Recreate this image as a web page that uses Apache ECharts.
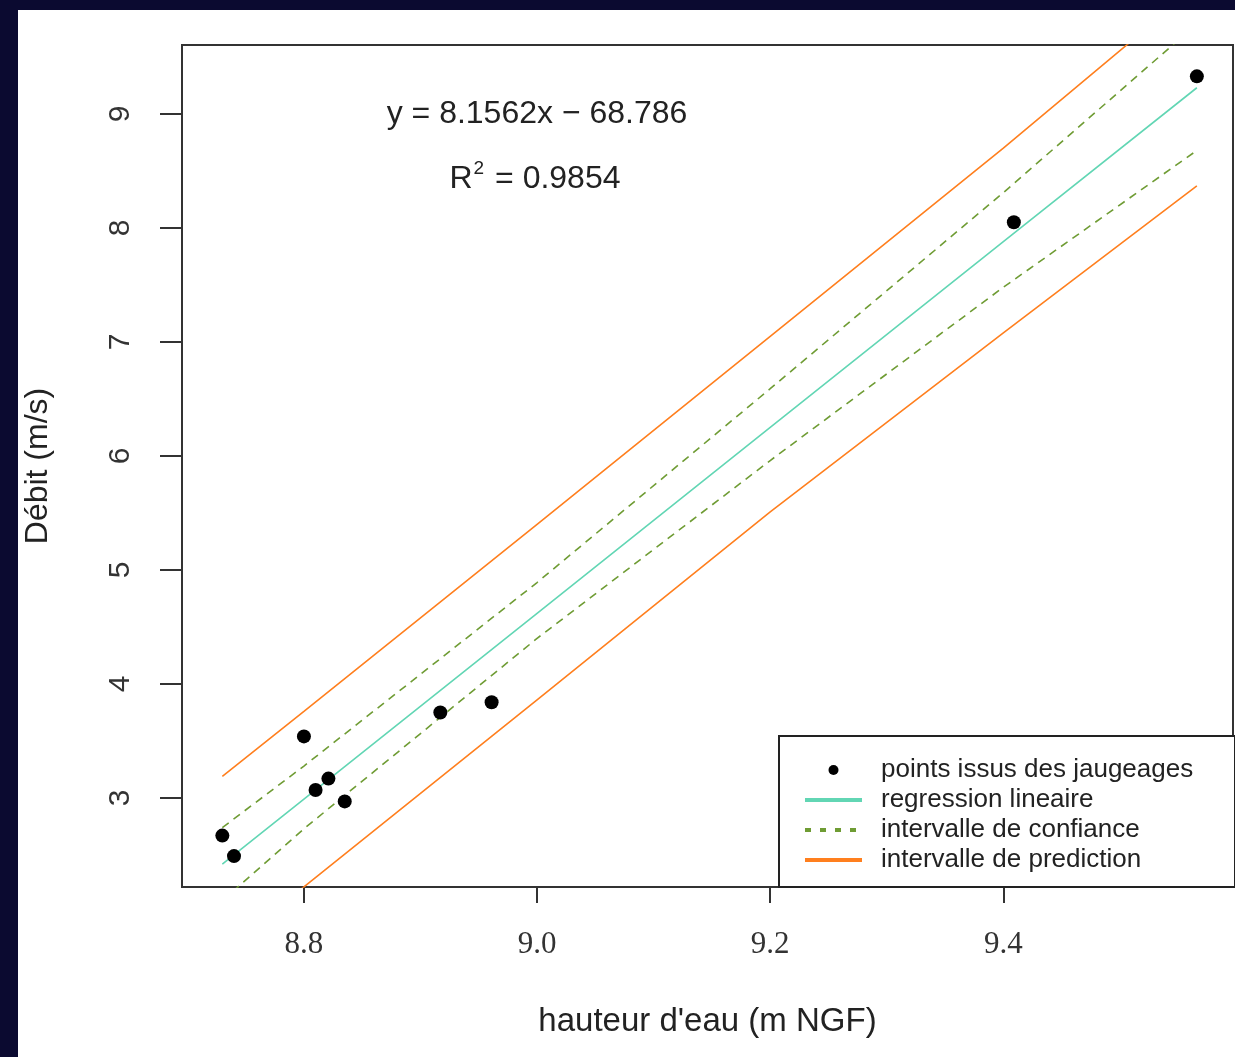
<!DOCTYPE html>
<html>
<head>
<meta charset="utf-8">
<script src="https://cdn.jsdelivr.net/npm/echarts@6/dist/echarts.min.js"></script>
<style>html,body{margin:0;padding:0;background:#0b0a30;}#c{width:1235px;height:1057px;}</style>
</head>
<body>
<div id="c"></div>
<script>
// ---- data ----
const pointX = [8.730, 8.740, 8.800, 8.810, 8.821, 8.835, 8.917, 8.961, 9.409, 9.566];
const pointY = [2.67, 2.49, 3.54, 3.07, 3.17, 2.97, 3.75, 3.84, 8.05, 9.33];

const bandX     = [8.730, 8.800, 9.000, 9.200, 9.400, 9.566];
const fitY      = [2.42, 2.99, 4.62, 6.25, 7.88, 9.23];
const confUpper = [2.74, 3.28, 4.89, 6.59, 8.31, 9.79];
const confLower = [2.10, 2.73, 4.40, 5.96, 7.48, 8.68];
const predUpper = [3.19, 3.76, 5.40, 7.05, 8.70, 10.12];
const predLower = [1.65, 2.22, 3.86, 5.51, 7.08, 8.37];

const xTicks = [8.8, 9.0, 9.2, 9.4];
const yTicks = [3, 4, 5, 6, 7, 8, 9];

const names = ['points issus des jaugeages', 'regression lineaire', 'intervalle de confiance', 'intervalle de prediction'];
const equationText = 'y = 8.1562x \u2212 68.786';
const r2Value = '0.9854';

const colTeal = '#62d6b4';
const colGreen = '#6f9c34';
const colOrange = '#ff7f1e';

const zip = (xs, ys) => xs.map((x, i) => [x, ys[i]]);

const chart = echarts.init(document.getElementById('c'), null, {renderer: 'canvas'});
const lineCommon = {type: 'line', showSymbol: false, symbol: 'none', clip: true, silent: true, animation: false};

chart.setOption({
  backgroundColor: '#0b0a30',
  animation: false,
  grid: {left: 182, top: 45, right: 2, bottom: 170, show: true, borderColor: '#333', borderWidth: 2, backgroundColor: 'transparent'},
  graphic: [
    {type: 'rect', z: -10, shape: {x: 18, y: 10, width: 1217, height: 1047}, style: {fill: '#ffffff'}},
    {type: 'rect', z: 3, shape: {x: 779, y: 736, width: 456, height: 151}, style: {fill: '#ffffff', stroke: '#222', lineWidth: 2}},
    {type: 'text', z: 5, x: 537, y: 114, style: {text: equationText, fill: '#222', font: '32px "Liberation Sans"', align: 'center', verticalAlign: 'middle'}},
    {type: 'text', z: 5, x: 535, y: 177, style: {
      text: '{a|R}{s|2}{a| = ' + r2Value + '}', align: 'center', verticalAlign: 'middle',
      rich: {
        a: {fontSize: 32, fontFamily: 'Liberation Sans', fill: '#222', color: '#222', lineHeight: 36, verticalAlign: 'bottom'},
        s: {fontSize: 19, fontFamily: 'Liberation Sans', fill: '#222', color: '#222', lineHeight: 36, verticalAlign: 'top', padding: [0, 2, 0, 1]}
      }
    }}
  ],
  legend: {
    orient: 'vertical', left: 803, top: 757, padding: 0,
    itemWidth: 57, itemHeight: 10, itemGap: 4,
    textStyle: {fontSize: 26, fontFamily: 'Liberation Sans', color: '#222', lineHeight: 26, padding: [0, 0, 0, 14]},
    selectedMode: false,
    data: [
      {name: names[0], icon: 'circle', itemStyle: {color: '#000', opacity: 1}},
      {name: names[1], lineStyle: {width: 4, color: colTeal, type: 'solid'}, itemStyle: {opacity: 0}},
      {name: names[2], lineStyle: {width: 4, color: colGreen, type: [6, 9]}, itemStyle: {opacity: 0}},
      {name: names[3], lineStyle: {width: 4, color: colOrange, type: 'solid'}, itemStyle: {opacity: 0}}
    ]
  },
  xAxis: {
    type: 'value', min: 8.6954, max: 9.597,
    axisLine: {show: false},
    splitLine: {show: false},
    axisTick: {show: true, inside: false, length: 16, lineStyle: {color: '#333', width: 2}, customValues: xTicks},
    axisLabel: {customValues: xTicks, formatter: v => v.toFixed(1), margin: 42, fontFamily: 'Liberation Serif', fontSize: 31, color: '#333'},
    name: "hauteur d'eau (m NGF)", nameLocation: 'middle', nameGap: 118,
    nameTextStyle: {fontSize: 33, fontFamily: 'Liberation Sans', color: '#222', verticalAlign: 'top'}
  },
  yAxis: {
    type: 'value', min: 2.219, max: 9.605,
    axisLine: {show: false},
    splitLine: {show: false},
    axisTick: {show: true, inside: false, length: 22, lineStyle: {color: '#333', width: 2}, customValues: yTicks},
    axisLabel: {customValues: yTicks, rotate: 90, margin: 46, fontFamily: 'Liberation Sans', fontSize: 30, color: '#333'},
    name: 'Débit (m/s)', nameLocation: 'middle', nameGap: 128, nameRotate: 90,
    nameTextStyle: {fontSize: 32, fontFamily: 'Liberation Sans', color: '#222'}
  },
  series: [
    Object.assign({}, lineCommon, {name: names[3], z: 2, data: zip(bandX, predUpper), lineStyle: {color: colOrange, width: 1.6}, itemStyle: {color: colOrange}}),
    Object.assign({}, lineCommon, {name: names[3], z: 2, data: zip(bandX, predLower), lineStyle: {color: colOrange, width: 1.6}, itemStyle: {color: colOrange}}),
    Object.assign({}, lineCommon, {name: names[2], z: 2, data: zip(bandX, confUpper), lineStyle: {color: colGreen, width: 1.6, type: [8, 6]}, itemStyle: {color: colGreen}}),
    Object.assign({}, lineCommon, {name: names[2], z: 2, data: zip(bandX, confLower), lineStyle: {color: colGreen, width: 1.6, type: [8, 6]}, itemStyle: {color: colGreen}}),
    Object.assign({}, lineCommon, {name: names[1], z: 2, data: zip(bandX, fitY), lineStyle: {color: colTeal, width: 1.6}, itemStyle: {color: colTeal}}),
    {type: 'scatter', name: names[0], z: 4, symbol: 'circle', symbolSize: 14, data: zip(pointX, pointY), itemStyle: {color: '#000', opacity: 1}, silent: true}
  ]
});
</script>
</body>
</html>
